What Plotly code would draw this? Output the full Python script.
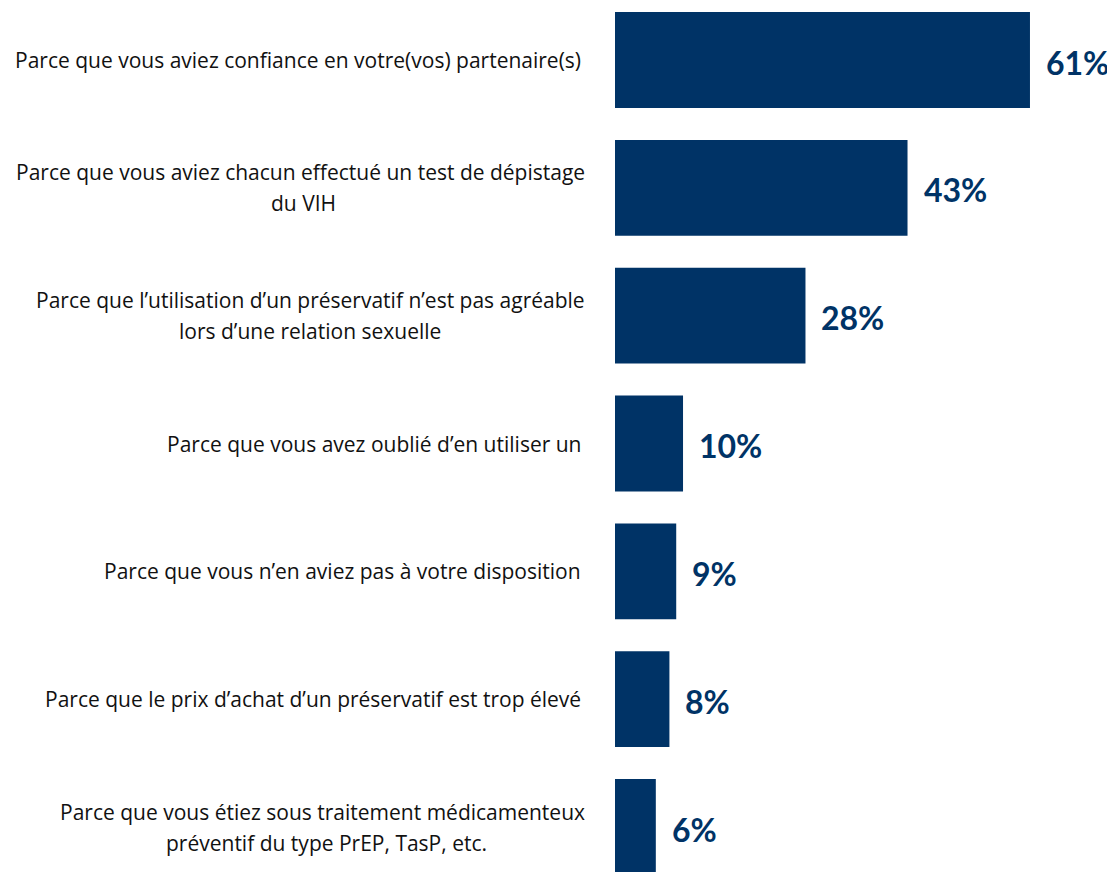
import plotly.graph_objects as go

# category lines (two-line labels split into first/second lines)
cat_line1 = [
    "Parce que vous aviez confiance en votre(vos) partenaire(s)",
    "Parce que vous aviez chacun effectué un test de dépistage",
    "Parce que l’utilisation d’un préservatif n’est pas agréable",
    "Parce que vous avez oublié d’en utiliser un",
    "Parce que vous n’en aviez pas à votre disposition",
    "Parce que le prix d’achat d’un préservatif est trop élevé",
    "Parce que vous étiez sous traitement médicamenteux",
]
cat_line2 = ["", "du VIH", "lors d’une relation sexuelle", "", "", "", "préventif du type PrEP, TasP, etc."]
values = [61, 43, 28, 10, 9, 8, 6]
value_labels = ["61%", "43%", "28%", "10%", "9%", "8%", "6%"]

NAVY = "#003366"
FONT = "Open Sans, Lato, sans-serif"
pos = list(range(len(values)))
# horizontal centre offset (px from bar start) of the second line, to centre it under line 1
line2_center = [0, -312, -305, 0, 0, 0, -289]

fig = go.Figure()
fig.add_trace(go.Bar(
    x=values, y=pos, orientation="h", width=0.75,
    marker=dict(color=NAVY, line=dict(width=0)),
    hoverinfo="skip",
))

for i in pos:
    two = cat_line2[i] != ""
    fig.add_annotation(x=0, y=i, xref="x", yref="y", text=cat_line1[i], showarrow=False,
                       xanchor="right", yanchor="middle", xshift=(-28 if two else -32),
                       yshift=(15.5 if two else 0),
                       font=dict(family=FONT, size=21, color="#111111"))
    if two:
        fig.add_annotation(x=0, y=i, xref="x", yref="y", text=cat_line2[i], showarrow=False,
                           xanchor="center", yanchor="middle", xshift=line2_center[i], yshift=-15.5,
                           font=dict(family=FONT, size=21, color="#111111"))
    fig.add_annotation(x=values[i], y=i, xref="x", yref="y", text=value_labels[i], showarrow=False,
                       xanchor="left", yanchor="middle", xshift=14, yshift=-2,
                       font=dict(family="Lato, Open Sans, sans-serif", size=32, color=NAVY, weight="bold"))

fig.update_layout(
    width=1107, height=864,
    margin=dict(l=607, r=0, t=0, b=0),
    paper_bgcolor="white", plot_bgcolor="white",
    showlegend=False,
    xaxis=dict(range=[0, 73.5], visible=False, fixedrange=True),
    yaxis=dict(range=[6.352, -0.407], visible=False, fixedrange=True),
)

fig.write_html("out.html")
